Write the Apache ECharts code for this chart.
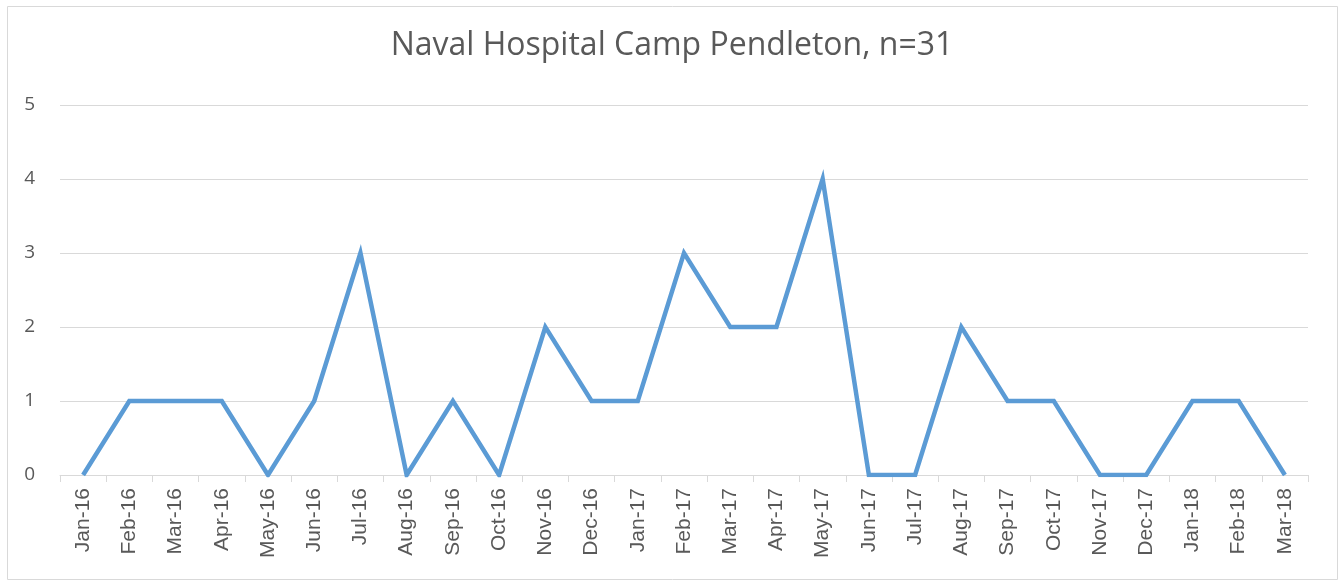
<!DOCTYPE html>
<html>
<head>
  <meta charset="utf-8">
  <title>Naval Hospital Camp Pendleton</title>
  <script src="https://cdn.jsdelivr.net/npm/echarts@6/dist/echarts.min.js"></script>
  <style>
    html, body { margin: 0; padding: 0; background: #fff; }
    #main { width: 1344px; height: 582px; }
  </style>
</head>
<body>
  <div id="main"></div>
  <script>
    // months on the x axis
    var months = ['Jan-16', 'Feb-16', 'Mar-16', 'Apr-16', 'May-16', 'Jun-16', 'Jul-16', 'Aug-16', 'Sep-16',
      'Oct-16', 'Nov-16', 'Dec-16', 'Jan-17', 'Feb-17', 'Mar-17', 'Apr-17', 'May-17', 'Jun-17', 'Jul-17',
      'Aug-17', 'Sep-17', 'Oct-17', 'Nov-17', 'Dec-17', 'Jan-18', 'Feb-18', 'Mar-18'];
    // counts per month
    var counts = [0, 1, 1, 1, 0, 1, 3, 0, 1, 0, 2, 1, 1, 3, 2, 2, 4, 0, 0, 2, 1, 1, 0, 0, 1, 1, 0];
    var yTicks = [0, 1, 2, 3, 4, 5];

    var chart = echarts.init(document.getElementById('main'));

    chart.setOption({
      animation: false,
      title: {
        text: 'Naval Hospital Camp Pendleton, n=31',
        left: 'center',
        top: 25,
        textStyle: {
          fontFamily: 'Open Sans',
          fontSize: 32,
          fontWeight: 'normal',
          color: '#595959'
        }
      },
      graphic: [{
        type: 'rect',
        shape: { x: 7.5, y: 6.5, width: 1330, height: 573 },
        style: { fill: 'none', stroke: '#d9d9d9', lineWidth: 1 },
        silent: true
      }],
      grid: {
        left: 60,
        right: 36,
        top: 105,
        bottom: 107
      },
      xAxis: {
        type: 'category',
        data: months,
        boundaryGap: true,
        axisLine: { lineStyle: { color: '#d9d9d9', width: 1 } },
        axisTick: { show: true, length: 7, lineStyle: { color: '#d9d9d9' } },
        axisLabel: {
          rotate: 90,
          interval: 0,
          margin: 13,
          formatter: '{m|{value}}',
          rich: {
            m: { fontFamily: 'Liberation Sans', fontSize: 21, color: '#595959' }
          }
        }
      },
      yAxis: {
        type: 'value',
        min: yTicks[0],
        max: yTicks[yTicks.length - 1],
        interval: 1,
        axisLine: { show: false },
        axisTick: { show: false },
        axisLabel: {
          margin: 25,
          formatter: '{v|{value}}',
          rich: {
            v: { fontFamily: 'Open Sans', fontSize: 19, color: '#595959' }
          }
        },
        splitLine: { lineStyle: { color: '#d9d9d9', width: 1 } }
      },
      series: [{
        type: 'line',
        data: counts,
        symbol: 'none',
        lineStyle: { color: '#5b9bd5', width: 4.5, join: 'miter' },
        itemStyle: { color: '#5b9bd5' }
      }]
    });
  </script>
</body>
</html>
